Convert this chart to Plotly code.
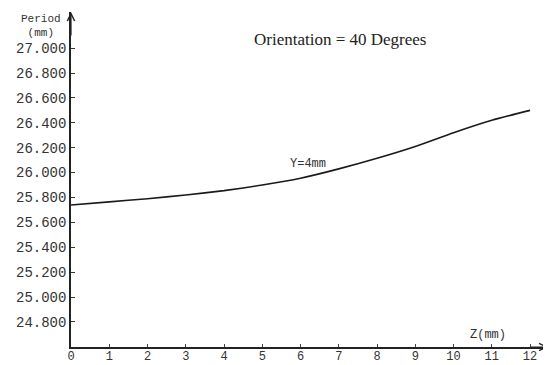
import plotly.graph_objects as go

z_mm = [0, 1, 2, 3, 4, 5, 6, 7, 8, 9, 10, 11, 12]
period_mm = [25.74, 25.765, 25.79, 25.82, 25.855, 25.90, 25.955, 26.03, 26.115, 26.21, 26.32, 26.42, 26.50]
y_ticks = [24.8, 25.0, 25.2, 25.4, 25.6, 25.8, 26.0, 26.2, 26.4, 26.6, 26.8, 27.0]
x_ticks = list(range(0, 13))

XMAX = 12.47
YMIN, YMAX = 24.599, 27.29
mono = "Liberation Mono"

# page body has an 8px margin; build the figure 8px smaller and shift coordinates
OFF = 8
W, H = 551 - OFF, 365 - OFF
L, R, T, B = 71 - OFF, 3, 12 - OFF, 18
pw, ph = W - L - R, H - T - B
def px(x): return (x - OFF - L) / pw
def py(y): return 1 - (y - OFF - T) / ph

fig = go.Figure()
fig.add_trace(go.Scatter(x=z_mm, y=period_mm, mode="lines",
                         line=dict(color="#1a1a1a", width=1.6, shape="spline", smoothing=0.6),
                         showlegend=False, hoverinfo="skip"))

fig.update_layout(
    width=W, height=H,
    margin=dict(l=L, r=R, t=T, b=B),
    paper_bgcolor="white", plot_bgcolor="white",
    xaxis=dict(range=[0, XMAX], tickvals=x_ticks, ticktext=[str(v) for v in x_ticks], automargin=False,
               showgrid=False, zeroline=False, showline=True, linecolor="#222", linewidth=1.5,
               ticks="inside", ticklen=3, tickcolor="#444",
               tickfont=dict(family=mono, size=12, color="#333")),
    yaxis=dict(range=[YMIN, YMAX], tickvals=y_ticks, ticktext=[f"{v:.3f}" for v in y_ticks], automargin=False,
               showgrid=False, zeroline=False, showline=True, linecolor="#222", linewidth=1.5,
               ticks="inside", ticklen=4, tickcolor="#333",
               tickfont=dict(family=mono, size=14, color="#333")),
)
try:
    fig.update_xaxes(ticklabelstandoff=-3)
except Exception:
    pass

fig.add_annotation(x=0, y=YMAX, ax=0, ay=YMAX - 0.2, xref="x", yref="y", axref="x", ayref="y",
                   showarrow=True, arrowhead=5, arrowsize=1.2, arrowwidth=1.2, arrowcolor="#222", text="")
fig.add_annotation(x=XMAX, y=YMIN, ax=XMAX - 0.5, ay=YMIN, xref="x", yref="y", axref="x", ayref="y",
                   showarrow=True, arrowhead=5, arrowsize=1.2, arrowwidth=1.2, arrowcolor="#222", text="")

texts = [
    ("Period<br>(mm)", 41, 26, mono, 11, "#333"),
    ("Orientation = 40 Degrees", 340, 40, "Liberation Serif", 17, "#222"),
    ("Z(mm)", 488, 335, mono, 12, "#333"),
    ("Y=4mm", 308, 164, mono, 12, "#333"),
]
for t, x, y, fam, sz, col in texts:
    fig.add_annotation(x=px(x), y=py(y), xref="paper", yref="paper", text=t, showarrow=False,
                       xanchor="center", yanchor="middle", font=dict(family=fam, size=sz, color=col))

fig.write_html("out.html")
